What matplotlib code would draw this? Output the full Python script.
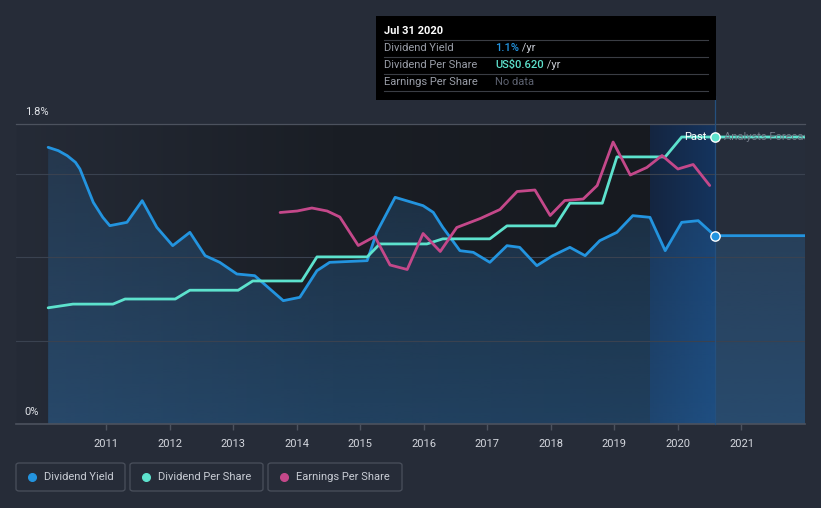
import numpy as np
import matplotlib
matplotlib.use('Agg')
import matplotlib.pyplot as plt
from matplotlib.patches import FancyBboxPatch, Rectangle
from matplotlib.colors import LinearSegmentedColormap

plt.rcParams['font.family'] = ['Roboto', 'DejaVu Sans']

# dividend yield (%)
yield_years = [2010.09, 2010.25, 2010.39, 2010.52, 2010.59, 2010.80, 2010.95, 2011.06, 2011.33,
               2011.57, 2011.80, 2012.05, 2012.32, 2012.56, 2012.79, 2013.06, 2013.34, 2013.79,
               2014.05, 2014.32, 2014.52, 2015.11, 2015.26, 2015.55, 2015.99, 2016.15, 2016.30,
               2016.57, 2016.78, 2017.04, 2017.31, 2017.51, 2017.78, 2018.03, 2018.30, 2018.54,
               2018.77, 2019.04, 2019.29, 2019.56, 2019.80, 2020.06, 2020.32, 2020.58, 2022.0]
yield_vals = [1.66, 1.64, 1.61, 1.57, 1.53, 1.33, 1.24, 1.19, 1.21,
              1.34, 1.18, 1.07, 1.15, 1.01, 0.97, 0.90, 0.89, 0.74,
              0.76, 0.92, 0.97, 0.98, 1.15, 1.36, 1.31, 1.27, 1.18,
              1.04, 1.03, 0.97, 1.07, 1.06, 0.95, 1.01, 1.06, 1.01,
              1.10, 1.15, 1.25, 1.24, 1.04, 1.21, 1.22, 1.13, 1.13]

# dividend per share (US$)
dps_years = [2010.09, 2010.48, 2011.11, 2011.30, 2012.09, 2012.32, 2013.08, 2013.31, 2014.08,
             2014.32, 2015.11, 2015.31, 2016.05, 2016.30, 2017.04, 2017.31, 2018.07, 2018.30,
             2018.81, 2019.04, 2019.80, 2020.06, 2020.58, 2022.0]
dps_vals = [0.251, 0.259, 0.259, 0.270, 0.270, 0.289, 0.289, 0.309, 0.309,
            0.361, 0.361, 0.389, 0.389, 0.400, 0.400, 0.428, 0.428, 0.477,
            0.477, 0.577, 0.577, 0.620, 0.620, 0.620]

# earnings per share (relative units)
eps_years = [2013.74, 2014.01, 2014.24, 2014.48, 2014.68, 2014.97, 2015.23, 2015.47, 2015.74,
             2015.99, 2016.26, 2016.52, 2016.89, 2017.20, 2017.47, 2017.75, 2017.99, 2018.22,
             2018.51, 2018.73, 2018.98, 2019.25, 2019.51, 2019.75, 2020.00, 2020.24, 2020.50]
eps_vals = [1.41, 1.42, 1.44, 1.42, 1.38, 1.19, 1.25, 1.06, 1.03,
            1.27, 1.15, 1.31, 1.37, 1.43, 1.55, 1.56, 1.39, 1.49,
            1.50, 1.59, 1.88, 1.66, 1.71, 1.79, 1.70, 1.73, 1.59]

year_ticks = list(range(2011, 2022))
now = 2020.58

BG = '#262c38'
BLUE = '#2394df'
TEAL = '#5de2cd'
PINK = '#c4488a'

W, H = 821, 508
fig = plt.figure(figsize=(W / 100, H / 100), dpi=100, facecolor=BG)


def fx(px):
    return px / W


def fy(py):
    return 1 - py / H


ax = fig.add_axes([fx(16), fy(424), fx(805) - fx(16), fy(124) - fy(424)])
ax.set_facecolor('#262d3a')
x0, x1 = 2009.584, 2022.0
ax.set_xlim(x0, x1)
ax.set_ylim(0, 1.8)

# past area gradient
cmap = LinearSegmentedColormap.from_list('past', ['#252b37', '#1a1e25', '#171a20'])
grad = np.linspace(0, 1, 256).reshape(1, -1)
ax.imshow(grad, extent=[x0, 2019.56, 0, 1.8], aspect='auto', cmap=cmap, zorder=0)
cmap2 = LinearSegmentedColormap.from_list('hl', ['#142540', '#15345e'])
ax.imshow(grad, extent=[2019.56, now, 0, 1.8], aspect='auto', cmap=cmap2, zorder=0)

for g in [0.5, 1.0, 1.5]:
    ax.axhline(g, color='#3a4250', lw=0.8, zorder=3)
ax.axhline(1.8, color='#4c525e', lw=0.9, zorder=3, clip_on=False)
ax.axhline(0, color='#4c525e', lw=1.2, zorder=3, clip_on=False)

# yield area with vertical gradient
fill = ax.fill_between(yield_years, yield_vals, 0, color='none', lw=0, zorder=2)
vgrad = np.zeros((256, 1, 4))
vgrad[:, 0, :3] = matplotlib.colors.to_rgb('#2d74b4')
vgrad[:, 0, 3] = np.linspace(0.42, 0.18, 256)
img = ax.imshow(vgrad, extent=[x0, x1, 1.8, 0], aspect='auto', zorder=2, origin='upper')
img.set_clip_path(fill.get_paths()[0], transform=ax.transData)
ax.set_ylim(0, 1.8)

ax.plot(yield_years, yield_vals, color=BLUE, lw=2.0, zorder=5,
        solid_capstyle='round', solid_joinstyle='round')

ax.plot([now, now], [0, 1.97], color='#24507e', lw=0.9, zorder=3, clip_on=False)

ax2 = ax.twinx()
ax2.set_ylim(0, 0.62 * 1.8 / 1.722)
ax2.plot(dps_years, dps_vals, color=TEAL, lw=2.0, zorder=5,
         solid_capstyle='round', solid_joinstyle='round')
ax2.scatter([now], [0.62], s=45, color=TEAL, edgecolor='white', lw=1.0, zorder=6)

ax3 = ax.twinx()
ax3.set_ylim(0, 2.0)
ax3.plot(eps_years, eps_vals, color=PINK, lw=2.0, zorder=4,
         solid_capstyle='round', solid_joinstyle='round')

ax.scatter([now], [1.13], s=45, color=BLUE, edgecolor='white', lw=1.0, zorder=7)

for a in (ax, ax2, ax3):
    for s in a.spines.values():
        s.set_visible(False)
    a.set_yticks([])
ax2.set_xticks([])
ax3.set_xticks([])

ax.set_xlim(x0, x1)
ax.set_xticks(year_ticks)
ax.set_xticklabels([str(y) for y in year_ticks], color='#d4d7de', fontsize=8)
ax.tick_params(axis='x', length=4, width=1, color='#4c525e', pad=7)

ax.text(2009.72, 1.87, '1.8%', color='#e0e3e8', fontsize=8, va='center', ha='left', zorder=8)
ax.text(2009.72, 0.07, '0%', color='#e0e3e8', fontsize=8, va='center', ha='left', zorder=8)

# past / forecast labels
fig.text(fx(706), fy(137), 'Past', color='white', fontsize=8, ha='right', va='center')
t = fig.text(fx(724), fy(137), 'Analysts Forecast', color='#737a88', fontsize=8, ha='left', va='center')
clip = Rectangle((fx(714), 0), fx(805) - fx(714), 1, transform=fig.transFigure, visible=False)
fig.add_artist(clip)
t.set_clip_path(clip)

# tooltip
fig.patches.append(Rectangle((fx(376), fy(100)), fx(716) - fx(376), fy(16) - fy(100),
                             transform=fig.transFigure, facecolor='black', edgecolor='none', zorder=10))
fig.text(fx(384), fy(31), 'Jul 31 2020', color='white', fontsize=8, fontweight='bold',
         va='center', zorder=11)
rows = [('Dividend Yield', '1.1%', BLUE, ' /yr'),
        ('Dividend Per Share', 'US$0.620', TEAL, ' /yr'),
        ('Earnings Per Share', 'No data', '#5d6270', '')]
for i, (lab, val, col, suf) in enumerate(rows):
    yy = 48 + i * 17
    fig.lines.append(plt.Line2D([fx(384), fx(708)], [fy(yy - 8.5), fy(yy - 8.5)], color='#3a3d44',
                                lw=0.8, transform=fig.transFigure, zorder=11))
    fig.text(fx(384), fy(yy), lab, color='#9a9ea8', fontsize=8, va='center', zorder=11)
    vt = fig.text(fx(495), fy(yy), val, color=col, fontsize=8, va='center', zorder=11,
                  fontweight='medium' if suf else 'normal')
    if suf:
        fig.canvas.draw()
        bb = vt.get_window_extent()
        fig.text(bb.x1 / W, fy(yy), suf, color='#c8ccd4', fontsize=8, va='center', zorder=11)
fig.lines.append(plt.Line2D([fx(384), fx(708)], [fy(90.5), fy(90.5)], color='#3a3d44',
                            lw=0.8, transform=fig.transFigure, zorder=11))

# legend
legend = [('Dividend Yield', BLUE, 16, 125), ('Dividend Per Share', TEAL, 130, 263),
          ('Earnings Per Share', PINK, 268, 402)]
for lab, col, l, r in legend:
    fig.patches.append(FancyBboxPatch((fx(l), fy(491)), fx(r) - fx(l), fy(463) - fy(491),
                                      boxstyle='round,pad=0,rounding_size=0.004',
                                      transform=fig.transFigure, facecolor='none',
                                      edgecolor='#4a505c', lw=0.9))
    fig.lines.append(plt.Line2D([fx(l + 16)], [fy(477)], marker='o', markersize=5.5,
                                color=col, lw=0, transform=fig.transFigure))
    fig.text(fx(l + 28), fy(477), lab, color='#c8ccd4', fontsize=8, va='center')

fig.savefig('out.png', dpi=100, facecolor=BG)
